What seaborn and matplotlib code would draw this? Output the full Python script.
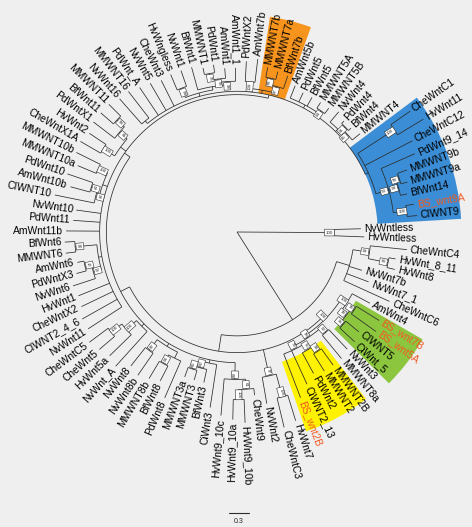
import numpy as np
import seaborn as sns
import matplotlib.pyplot as plt
from matplotlib.patches import Wedge
from matplotlib.collections import LineCollection

# clades as newick (branch length after ':', bootstrap before ':' on internal nodes)
WNTLESS = "(NvWntless:0.4,HvWntless:0.45)100:1.45"
WNT8_C4 = "((CheWntC4:0.55,(HvWnt_8_11:0.1,HvWnt8:0.12)66:0.3)99:0.25,NvWnt7b:0.2,NvWnt7_1:0.35,CheWntC6:0.75):0.2"
WNT2_5_7 = ("((AmWnt4:0.3,((BS_wnt7B:0.4,BS_wnt5A:0.45)78:0.05,(CIWNT5:0.25,CiWnt_5:0.3)95:0.05)78:0.1)100:0.1,"
            "((NvWnt3:0.4,MMWNT8a:0.45)92:0.1,(((MMWNT2B:0.3,MMWNT2:0.3)96:0.1,PdWnt2:0.35)55:0.1,"
            "CiWNT2_13:0.55,BS_wnt2B:0.7)79:0.05)78:0.05)100:0.05")
WNT7_C3 = "((HvWnt7:0.4,CheWntC3:0.45)100:0.35,NvWnt2:0.4)97:0.4"
WNT9_10 = "((CheWnt9:0.1,(HvWnt9_10b:0.35,HvWnt9_10a:0.3)100:0.15)61:0.15,HvWnt9_10c:0.55)88:0.25"
WNT3 = "(CiWnt3:0.65,(BfWnt3:0.2,(MMWNT3:0.15,MMWNT3a:0.15)65:0.05)92:0.1):0.05"
WNT8 = "((PdWnt8:0.6,(BfWnt8:0.25,MMWNT8b:0.3)94:0.15):0.1,(NvWnt8b:0.4,NvWnt8:0.35)87:0.2):0.05"
WNT5_C5 = "(NvWnt_A:0.7,(HvWnt5a:0.45,(CheWnt5:0.3,CheWntC5:0.35)100:0.2)100:0.2):0.05"
WNT6 = "((NvWnt6:0.35,(PdWntX3:0.15,AmWnt6:0.1)79:0.1)52:0.125,(MMWNT6:0.15,BfWnt6:0.15)94:0.325):0.05"
WNT10 = "((CIWNT10:0.6,(AmWnt10b:0.3,PdWnt10:0.4)51:0.1)51:0.05,(MMWNT10a:0.3,MMWNT10b:0.4)100:0.15):0.075"
WNT11 = "((CheWntX1A:0.35,HvWnt2:0.3)100:0.2,(PdWntX1:0.4,(BfWnt11:0.25,MMWNT11:0.25)58:0.15)81:0.15):0.1"
WNT16 = "(NvWnt16:0.5,MMWNT16:0.5):0.05"
WNT1 = ("((HvWngless:0.25,NvWnt1:0.25)94:0.15,(BfWnt1:0.35,(((MMWNT1:0.1,PdWnt1:0.12)74:0.1,"
        "AmWnt1:0.15)95:0.05,AmWnt1_1:0.2)98:0.05):0.05):0.05")
WNT7 = "((PdWntX2:0.3,AmWnt7b:0.35)100:0.1,((MMWNT7b:0.15,MMWNT7a:0.12)84:0.1,BfWnt7b:0.2)97:0.1):0.05"
WNT5 = "(AmWnt5b:0.2,PdWnt5:0.15,BfWnt5:0.15,(MMWNT5A:0.1,MMWNT5B:0.1)64:0.05):0.05"
WNT4 = "(NvWnt4:0.2,((PdWnt4:0.05,BfWnt4:0.05)91:0.05,MMWNT4:0.15)85:0.05):0.05"
WNT9 = ("((CheWntC1:0.35,HvWnt11:0.45)100:0.65,CheWntC12:0.8,(PdWnt9_14:0.55,((MMWNT9b:0.15,MMWNT9a:0.1)58:0.05,"
        "BfWnt14:0.1)99:0.15,(BS_wnt9A:0.12,CIWNT9:0.15)100:0.2)53:0.2):0.05")

INNER_CLADES = [WNT9_10, WNT3, WNT8, WNT5_C5]
MID_CLADES = ["NvWnt11:0.6", "CIWNT2_4_6:0.6", "CheWntX2:0.525", "HvWnt1:0.5", WNT6,
              "AmWnt11b:0.5", "PdWnt11:0.4", "NvWnt10:0.37", WNT10, WNT11]
OUTER_CLADES = [WNT16, "PdWnt_A:0.5", "NvWnt5:0.47", "CheWnt3:0.43", WNT1, WNT7, WNT5, WNT4, WNT9]

TREE = ("({wl},({c4},({w257},{w7c3},({inner},({mid},({outer}):0.05):0.1):0.15):0.25):1.55);"
        .format(wl=WNTLESS, c4=WNT8_C4, w257=WNT2_5_7, w7c3=WNT7_C3,
                inner=",".join(INNER_CLADES), mid=",".join(MID_CLADES), outer=",".join(OUTER_CLADES)))

RED_LABELS = ["BS_wnt7B", "BS_wnt5A", "BS_wnt2B", "BS_wnt9A"]
HIGHLIGHTS = [("MMWNT7b", "BfWnt7b", "#F7941E", 2.1, 3.25),
              ("CheWntC1", "CIWNT9", "#3B8ED6", 2.1, 3.35),
              ("BS_wnt7B", "CiWnt_5", "#8CC63F", 2.05, 3.2),
              ("MMWNT2B", "BS_wnt2B", "#FFF200", 2.05, 3.15)]
SCALE_BAR = 0.3


def parse_newick(text):
    text = text.strip().rstrip(";")
    pos = 0

    def read_node():
        nonlocal pos
        node = {"children": [], "label": "", "length": 0.0}
        if text[pos] == "(":
            pos += 1
            while True:
                node["children"].append(read_node())
                ch = text[pos]
                pos += 1
                if ch == ")":
                    break
        start = pos
        while pos < len(text) and text[pos] not in ":,)":
            pos += 1
        node["label"] = text[start:pos]
        if pos < len(text) and text[pos] == ":":
            pos += 1
            start = pos
            while pos < len(text) and text[pos] not in ",)":
                pos += 1
            node["length"] = float(text[start:pos])
        return node

    return read_node()


root = parse_newick(TREE)

leaves = []
def set_depth(node, parent_depth):
    node["depth"] = parent_depth + node["length"]
    if not node["children"]:
        leaves.append(node)
    for c in node["children"]:
        set_depth(c, node["depth"])
set_depth(root, 0.0)

step = 360.0 / len(leaves)
start_angle = 1.5
for i, lf in enumerate(leaves):
    lf["angle"] = start_angle - i * step

def set_angle(node):
    if node["children"]:
        for c in node["children"]:
            set_angle(c)
        node["angle"] = (node["children"][0]["angle"] + node["children"][-1]["angle"]) / 2
set_angle(root)

leaf_angle = {lf["label"]: lf["angle"] for lf in leaves}

def pol(r, a):
    t = np.deg2rad(a)
    return r * np.cos(t), r * np.sin(t)

segments = []
supports = []
def collect(node, parent_depth):
    if node is not root:
        segments.append([pol(parent_depth, node["angle"]), pol(node["depth"], node["angle"])])
    if node["children"]:
        a0, a1 = node["children"][0]["angle"], node["children"][-1]["angle"]
        arc = np.linspace(a0, a1, max(3, int(abs(a1 - a0) * 2)))
        segments.append([pol(node["depth"], a) for a in arc])
        if node["label"] and node is not root:
            supports.append((node["depth"], node["angle"], node["label"]))
        for c in node["children"]:
            collect(c, node["depth"])
collect(root, 0.0)

sns.set_theme(style="white")
plt.rcParams["font.family"] = ["Liberation Sans", "DejaVu Sans"]

fig = plt.figure(figsize=(4.72, 5.27), dpi=100)
fig.patch.set_facecolor("#EFEFEF")
ax = fig.add_axes([0, 0, 1, 1])
ax.set_facecolor("#EFEFEF")
ax.set_xlim(-237 / 67, 235 / 67)
ax.set_ylim(-295 / 67, 232 / 67)
ax.axis("off")

for first, last, color, r_in, r_out in HIGHLIGHTS:
    t1 = leaf_angle[last] - step / 2
    t2 = leaf_angle[first] + step / 2
    ax.add_patch(Wedge((0, 0), r_out, t1, t2, width=r_out - r_in, facecolor=color,
                       edgecolor="none", zorder=1))

ax.add_collection(LineCollection(segments, colors="#2b2b2b", linewidths=0.55, zorder=2))

def rot(a):
    a = (a + 180) % 360 - 180
    if -90 <= a <= 90:
        return a, "left"
    return a - 180 if a > 0 else a + 180, "right"

for lf in leaves:
    r, ha = rot(lf["angle"])
    x, y = pol(lf["depth"] + 0.05, lf["angle"])
    color = "#F15A24" if lf["label"] in RED_LABELS else "black"
    ax.text(x, y, lf["label"], rotation=r, ha=ha, va="center", rotation_mode="anchor",
            fontsize=7.4, color=color, zorder=4)

for depth, angle, label in supports:
    r, ha = rot(angle)
    x, y = pol(depth - 0.07, angle)
    ax.text(x, y, label, rotation=r, ha="center", va="center", rotation_mode="anchor",
            fontsize=3.2, zorder=3,
            bbox=dict(boxstyle="square,pad=0.3", facecolor="white", edgecolor="#2b2b2b", linewidth=0.4))

x0, yb = -0.12, -4.19
ax.plot([x0, x0 + SCALE_BAR], [yb, yb], color="#2b2b2b", linewidth=0.8)
ax.text(x0 + SCALE_BAR / 2, yb - 0.13, str(SCALE_BAR), ha="center", va="center", fontsize=5)

fig.savefig("out.png", dpi=100, facecolor=fig.get_facecolor())
